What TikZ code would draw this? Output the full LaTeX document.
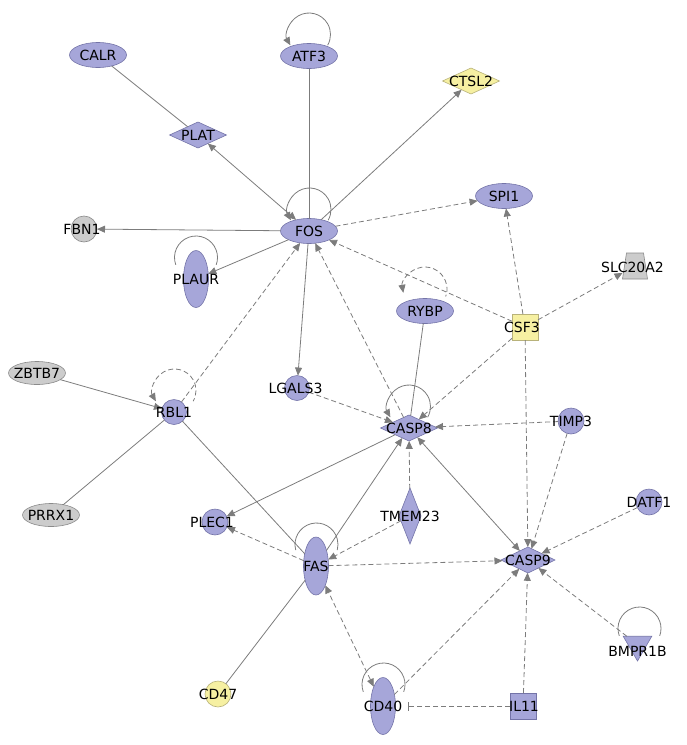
\documentclass[tikz,border=0pt]{standalone}
\usepackage{fontspec}
\setmainfont{DejaVu Sans}
\usetikzlibrary{shapes.geometric,arrows.meta,calc}
\definecolor{pur}{HTML}{A6A6D9}
\definecolor{purb}{HTML}{7474A8}
\definecolor{gry}{HTML}{CCCCCC}
\definecolor{gryb}{HTML}{8A8A8A}
\definecolor{yel}{HTML}{F6F0A2}
\definecolor{yelb}{HTML}{B8B27A}
\definecolor{edgec}{HTML}{7C7C7C}
\begin{document}
\begin{tikzpicture}[x=1pt,y=-1pt,
  base/.style={draw=purb, fill=pur, line width=0.6pt, inner sep=0pt, outer sep=0pt},
  ell/.style={base, ellipse, minimum width=57pt, minimum height=25pt},
  vell/.style={base, ellipse, minimum width=25pt, minimum height=57pt},
  circ/.style={base, circle, minimum size=25pt},
  dia/.style={base, diamond, minimum width=57pt, minimum height=26pt},
  vdia/.style={base, diamond, minimum width=22pt, minimum height=56pt},
  sq/.style={base, rectangle, minimum size=26pt},
  grey/.style={draw=gryb, fill=gry},
  yellow/.style={draw=yelb, fill=yel},
  lab/.style={font=\fontsize{14}{15}\selectfont, text=black, inner sep=0pt},
  ed/.style={draw=edgec, line width=0.8pt},
  dsh/.style={dash pattern=on 5pt off 3pt},
  arr/.style={-{Triangle[length=8pt,width=7pt]}},
  rarr/.style={{Triangle[length=8pt,width=7pt]}-},
  barr/.style={{Triangle[length=8pt,width=7pt]}-{Triangle[length=8pt,width=7pt]}},
]
\useasboundingbox (0,0) rectangle (687,745);

% ---------- nodes ----------
\node[ell] (CALR) at (98,55) {};
\node[ell] (ATF3) at (309,56) {};
\node[dia, yellow] (CTSL2) at (471,81) {};
\node[dia] (PLAT) at (198,135) {};
\node[ell] (FOS) at (309,231) {};
\node[ell] (SPI1) at (504,196) {};
\node[circ, grey, minimum size=26pt] (FBN1) at (84,229) {};
\node[vell] (PLAUR) at (196,279) {};
\node[inner sep=0pt, outer sep=0pt, minimum width=25pt, minimum height=26pt] (SLC) at (635,266) {};
\filldraw[draw=gryb, fill=gry, line width=0.6pt] (SLC.south west) -- (SLC.south east)
   -- ($(SLC.north east)+(-4,0)$) -- ($(SLC.north west)+(4,0)$) -- cycle;
\node[ell] (RYBP) at (425,311) {};
\node[sq, yellow] (CSF3) at (525,327) {};
\node[ell, grey, minimum height=23pt] (ZBTB7) at (37,373) {};
\node[circ] (RBL1) at (174,412) {};
\node[circ] (LGALS3) at (297,388) {};
\node[ell, grey, minimum height=23pt] (PRRX1) at (51,515) {};
\node[circ, minimum size=26pt] (PLEC1) at (215,522) {};
\node[vell, minimum height=58pt] (FAS) at (316,566) {};
\node[dia] (CASP8) at (409,428) {};
\node[circ, minimum size=26pt] (TIMP3) at (571,421) {};
\node[vdia] (TMEM23) at (410,516) {};
\node[circ, minimum size=26pt] (DATF1) at (649,502) {};
\node[dia, minimum width=54pt] (CASP9) at (528,560) {};
\node[base, regular polygon, regular polygon sides=3, shape border rotate=180,
      minimum size=33pt] (BMPR1B) at (637.5,644.5) {};
\node[circ, yellow, minimum size=26pt] (CD47) at (218,694) {};
\node[vell] (CD40) at (383,706) {};
\node[sq] (IL11) at (523,706) {};

% ---------- self loops ----------
\draw[ed, rarr] ($(ATF3.center)+(0,-21.5)+(150:21.5)$) arc[start angle=150, end angle=390, radius=21.5];
\draw[ed, rarr] ($(FOS.center)+(0.5,-21.5)+(150:21.5)$) arc[start angle=150, end angle=390, radius=21.5];
\draw[ed] ($(PLAUR.center)+(0,-21.5)+(160:21.5)$) arc[start angle=160, end angle=380, radius=21.5];
\draw[ed, dsh, rarr] ($(RYBP.center)+(0,-22)+(170:22)$) arc[start angle=170, end angle=380, radius=22];
\draw[ed, dsh, rarr] ($(RBL1.center)+(0.5,-21.5)+(150:21.5)$) arc[start angle=150, end angle=390, radius=21.5];
\draw[ed, rarr] ($(CASP8.center)+(0,-21.5)+(150:21.5)$) arc[start angle=150, end angle=390, radius=21.5];
\draw[ed] ($(FAS.center)+(0.5,-21.5)+(165:21.5)$) arc[start angle=165, end angle=375, radius=21.5];
\draw[ed] ($(CD40.center)+(0.5,-21.5)+(160:21.5)$) arc[start angle=160, end angle=380, radius=21.5];
\draw[ed] ($(BMPR1B.center)+(2,-16)+(160:21.5)$) arc[start angle=160, end angle=380, radius=21.5];

% ---------- edges ----------
\draw[ed] (CALR) -- (PLAT);
\draw[ed, barr] (PLAT) -- (FOS);
\draw[ed] (ATF3) -- (FOS);
\draw[ed, arr] (FOS) -- (CTSL2);
\draw[ed, dsh, arr] (FOS) -- (SPI1);
\draw[ed, arr] (FOS) -- (FBN1);
\draw[ed, arr] (FOS) -- (PLAUR);
\draw[ed, arr] (FOS) -- (LGALS3);
\draw[ed, dsh, arr] (CSF3) -- (FOS);
\draw[ed, dsh, arr] (CSF3) -- (SPI1);
\draw[ed, dsh, arr] (CSF3) -- (SLC);
\draw[ed, dsh, arr] (CSF3) -- (CASP8);
\draw[ed, dsh, arr] (CSF3) -- (CASP9);
\draw[ed] (RYBP) -- (CASP8);
\draw[ed, dsh, arr] (LGALS3) -- (CASP8);
\draw[ed, dsh, arr] (CASP8) -- (FOS);
\draw[ed, dsh, arr] (RBL1) -- (FOS);
\draw[ed, arr] (ZBTB7) -- (RBL1);
\draw[ed] (PRRX1) -- (RBL1);
\draw[ed] (RBL1) -- (FAS);
\draw[ed, arr] (CASP8) -- (PLEC1);
\draw[ed, dsh, arr] (FAS) -- (PLEC1);
\draw[ed, arr] (FAS) -- (CASP8);
\draw[ed, dsh, arr] (TMEM23) -- (CASP8);
\draw[ed, dsh, arr] (TMEM23) -- (FAS);
\draw[ed, dsh, arr] (TIMP3) -- (CASP8);
\draw[ed, dsh, arr] (TIMP3) -- (CASP9);
\draw[ed, barr] (CASP8) -- (CASP9);
\draw[ed, dsh, arr] (FAS) -- (CASP9);
\draw[ed, dsh, arr] (DATF1) -- (CASP9);
\draw[ed, dsh, arr] (BMPR1B) -- (CASP9);
\draw[ed] (FAS) -- (CD47);
\draw[ed, dsh, barr] (CD40) -- (FAS);
\draw[ed, dsh, arr] (CD40) -- (CASP9);
\draw[ed, dsh, -{Bar[width=9pt]}, shorten >=12pt] (IL11) -- (CD40);
\draw[ed, dsh, arr] (IL11) -- (CASP9);

% ---------- labels ----------
\node[lab] at (CALR) {CALR};
\node[lab] at (ATF3) {ATF3};
\node[lab] at (CTSL2) {CTSL2};
\node[lab] at (PLAT) {PLAT};
\node[lab] at (FOS) {FOS};
\node[lab] at (SPI1) {SPI1};
\node[lab] at (82,229) {FBN1};
\node[lab] at (PLAUR) {PLAUR};
\node[lab] at (632.5,267) {SLC20A2};
\node[lab] at (RYBP) {RYBP};
\node[lab] at (522,327.5) {CSF3};
\node[lab] at (ZBTB7) {ZBTB7};
\node[lab] at (RBL1) {RBL1};
\node[lab] at (295.5,388) {LGALS3};
\node[lab] at (PRRX1) {PRRX1};
\node[lab] at (212,522) {PLEC1};
\node[lab] at (FAS) {FAS};
\node[lab] at (CASP8) {CASP8};
\node[lab] at (571,421) {TIMP3};
\node[lab] at (TMEM23) {TMEM23};
\node[lab] at (649,502) {DATF1};
\node[lab] at (CASP9) {CASP9};
\node[lab] at (637.5,651) {BMPR1B};
\node[lab] at (218,694) {CD47};
\node[lab] at (CD40) {CD40};
\node[lab] at (524,706) {IL11};
\end{tikzpicture}
\end{document}
